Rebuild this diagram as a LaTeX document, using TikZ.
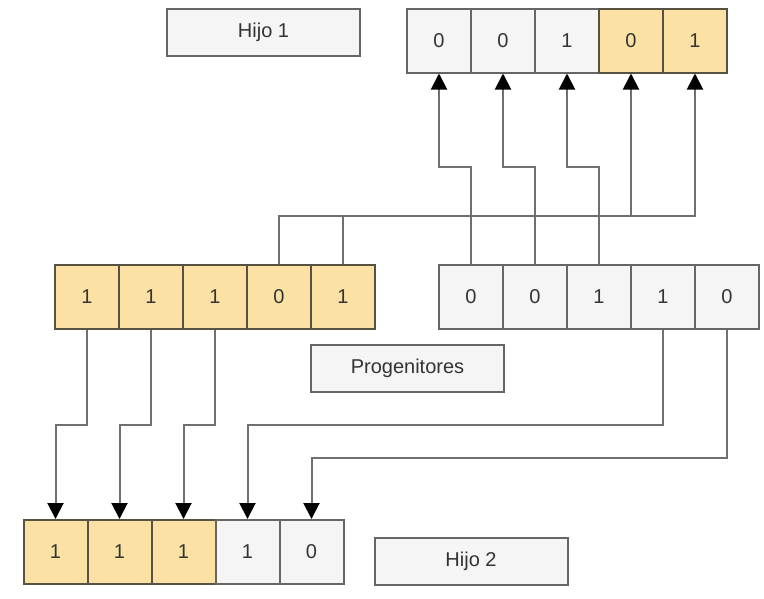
\documentclass[tikz,border=0pt]{standalone}
\usepackage{fontspec}
\setmainfont{Liberation Sans}
\usetikzlibrary{arrows.meta}
\definecolor{cellgray}{RGB}{245,245,245}
\definecolor{cellyellow}{RGB}{251,225,164}
\definecolor{edgegray}{RGB}{102,102,102}
\definecolor{edgeyellow}{RGB}{88,82,64}
\definecolor{linkgray}{RGB}{112,112,112}
\definecolor{textgray}{RGB}{51,51,51}

\tikzset{
    bitcell/.style={
        draw=edgegray,
        fill=cellgray,
        line width=2pt,
        minimum width=64pt,
        minimum height=64pt,
        inner sep=0pt,
        text=textgray,
        font=\fontsize{20}{24}\selectfont
    },
    bityellow/.style={
        bitcell,
        draw=edgeyellow,
        fill=cellyellow
    },
    tagbox/.style={
        draw=edgegray,
        fill=cellgray,
        line width=2pt,
        minimum width=193pt,
        minimum height=47pt,
        inner sep=0pt,
        text=textgray,
        font=\fontsize{20}{24}\selectfont
    },
    link/.style={
        draw=linkgray,
        line width=2pt,
        -{Triangle[width=16pt,length=16pt,color=black]}
    }
}

\begin{document}
\begin{tikzpicture}[x=1pt,y=-1pt]
    \useasboundingbox (0,0) rectangle (764,598);

    % labels
    \node[tagbox] (hijo1) at (263.5,32) {Hijo 1};
    \node[tagbox] (prog) at (407.5,368) {Progenitores};
    \node[tagbox] (hijo2) at (471,561) {Hijo 2};

    % Hijo 1
    \node[bitcell] (h1c1) at (439,40.5) {0};
    \node[bitcell] (h1c2) at (503,40.5) {0};
    \node[bitcell] (h1c3) at (567,40.5) {1};
    \node[bityellow] (h1c4) at (631,40.5) {0};
    \node[bityellow] (h1c5) at (695,40.5) {1};

    % progenitor 1
    \node[bityellow] (p1c1) at (87,296.5) {1};
    \node[bityellow] (p1c2) at (151,296.5) {1};
    \node[bityellow] (p1c3) at (215,296.5) {1};
    \node[bityellow] (p1c4) at (279,296.5) {0};
    \node[bityellow] (p1c5) at (343,296.5) {1};

    % progenitor 2
    \node[bitcell] (p2c1) at (471,297) {0};
    \node[bitcell] (p2c2) at (535,297) {0};
    \node[bitcell] (p2c3) at (599,297) {1};
    \node[bitcell] (p2c4) at (663,297) {1};
    \node[bitcell] (p2c5) at (727,297) {0};

    % Hijo 2
    \node[bityellow] (h2c1) at (55.5,552) {1};
    \node[bityellow] (h2c2) at (119.5,552) {1};
    \node[bityellow] (h2c3) at (183.5,552) {1};
    \node[bitcell] (h2c4) at (247.5,552) {1};
    \node[bitcell] (h2c5) at (311.5,552) {0};

    % cruce hacia Hijo 1
    \draw[link] (p2c1.north) -- ++(0,-97) -| (h1c1.south);
    \draw[link] (p2c2.north) -- ++(0,-97) -| (h1c2.south);
    \draw[link] (p2c3.north) -- ++(0,-97) -| (h1c3.south);
    \draw[link] (p1c4.north) -- ++(0,-48) -| (h1c4.south);
    \draw[link] (p1c5.north) -- ++(0,-48) -| (h1c5.south);

    % cruce hacia Hijo 2
    \draw[link] (p1c1.south) -- ++(0,95) -| (h2c1.north);
    \draw[link] (p1c2.south) -- ++(0,95) -| (h2c2.north);
    \draw[link] (p1c3.south) -- ++(0,95) -| (h2c3.north);
    \draw[link] (p2c4.south) -- ++(0,95) -| (h2c4.north);
    \draw[link] (p2c5.south) -- ++(0,128) -| (h2c5.north);
\end{tikzpicture}
\end{document}
